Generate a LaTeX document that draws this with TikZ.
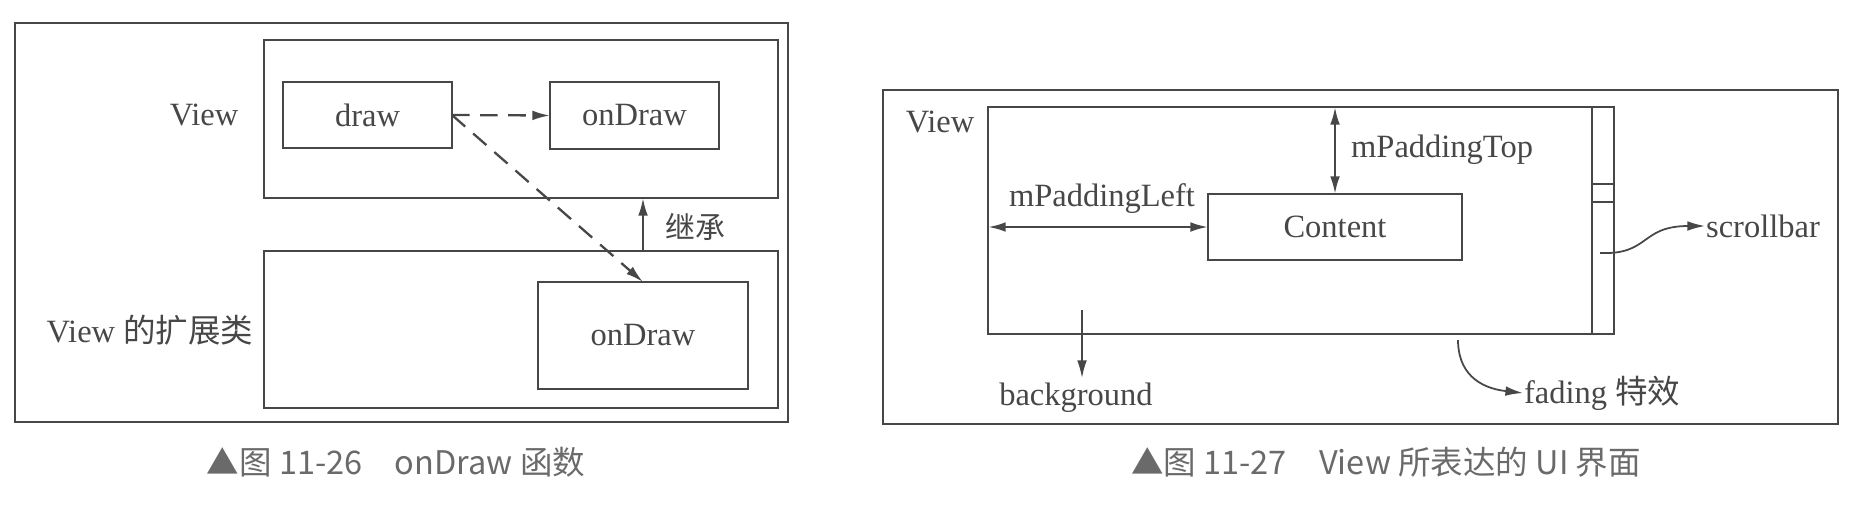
\documentclass[tikz,border=0pt]{standalone}
\usepackage{fontspec}
\setmainfont{Liberation Serif}
\newfontfamily\cjk{Noto Sans CJK SC}
\usetikzlibrary{arrows.meta}
\definecolor{ink}{HTML}{474747}
\definecolor{capgray}{HTML}{6A6A6A}

\begin{document}
\begin{tikzpicture}[x=0.02cm,y=-0.02cm,
    line width=1.3pt, color=ink,
    box/.style={draw, inner sep=0pt, outer sep=0pt, font=\fontsize{18.5}{20}\selectfont},
    lbl/.style={inner sep=0pt, font=\fontsize{18.5}{20}\selectfont},
    caption/.style={inner sep=0pt, text=capgray, font=\cjk\fontsize{18.5}{20}\selectfont},
    tip/.style={-{Latex[length=10pt,width=5.5pt]}},
    twotip/.style={{Latex[length=10pt,width=5.5pt]}-{Latex[length=10pt,width=5.5pt]}},
    dashline/.style={dash pattern=on 10pt off 6pt}]
    \useasboundingbox (0,0) rectangle (1855,522);

    % left: onDraw
    \draw (15,23) rectangle (788,422);
    \node [box, minimum width=10.28cm, minimum height=3.16cm] (lview) at (521,119) {};
    \node [box, minimum width=3.38cm, minimum height=1.32cm] (draw) at (367.5,115) {draw};
    \node [box, minimum width=3.38cm, minimum height=1.34cm] (ondraw) at (634.5,115.5) {onDraw};
    \node [box, minimum width=10.28cm, minimum height=3.14cm] (lext) at (521,329.5) {};
    \node [box, minimum width=4.2cm, minimum height=2.14cm] (ondrawb) at (643,335.5) {onDraw};
    \node [lbl] (viewlbl) at (204,115) {View};
    \node [lbl] (extlbl) at (150,330) {View {\cjk 的扩展类}};
    \draw [tip, dashline] (draw.east) -- (ondraw.west);
    \draw [tip, dashline] (draw.east) -- (ondrawb.north);
    \draw [tip] (ondrawb.north |- lext.north) -- (ondrawb.north |- lview.south);
    \node [lbl, font=\cjk\fontsize{17}{20}\selectfont] (inherit) at (695,227) {继承};
    \node [caption] (cap1) at (396,462) {▲图 11-26\quad onDraw 函数};

    % right: View UI
    \draw (883,90) rectangle (1838,424);
    \node [box, minimum width=12.08cm, minimum height=4.54cm] (rview) at (1290,220.5) {};
    \node [box, minimum width=0.44cm, minimum height=4.54cm] (sbar) at (1603,220.5) {};
    \draw (sbar.west |- 0,184) -- (sbar.east |- 0,184);
    \draw (sbar.west |- 0,202) -- (sbar.east |- 0,202);
    \node [box, minimum width=5.08cm, minimum height=1.32cm] (content) at (1335,227) {Content};
    \node [lbl] (rviewlbl) at (940,122) {View};
    \draw [twotip] (content.north |- rview.north) -- (content.north);
    \node [lbl, anchor=west] (ptop) at (1350,150) {mPaddingTop};
    \draw [twotip] (rview.west |- content.west) -- (content.west);
    \node [lbl] (pleft) at (1102,199) {mPaddingLeft};
    \coordinate (sbstart) at (1600,253);
    \node [lbl, anchor=west] (sbtxt) at (1705,226) {scrollbar};
    \draw [tip, line width=1pt] (sbstart) .. controls (1650,255) and (1640,226) .. (sbtxt.west);
    \coordinate (bgstart) at (1082,310);
    \node [lbl] (bgtxt) at (1076,398) {background};
    \draw [tip, line width=1pt] (bgstart) -- (bgstart |- 0,378);
    \coordinate (fdstart) at (1458,340);
    \node [lbl, anchor=west] (fdtxt) at (1523,393) {fading {\cjk 特效}};
    \draw [tip, line width=1pt] (fdstart) .. controls (1458,372) and (1478,388) .. (fdtxt.west);
    \node [caption] (cap2) at (1386,462) {▲图 11-27\quad View 所表达的 UI 界面};
\end{tikzpicture}
\end{document}
